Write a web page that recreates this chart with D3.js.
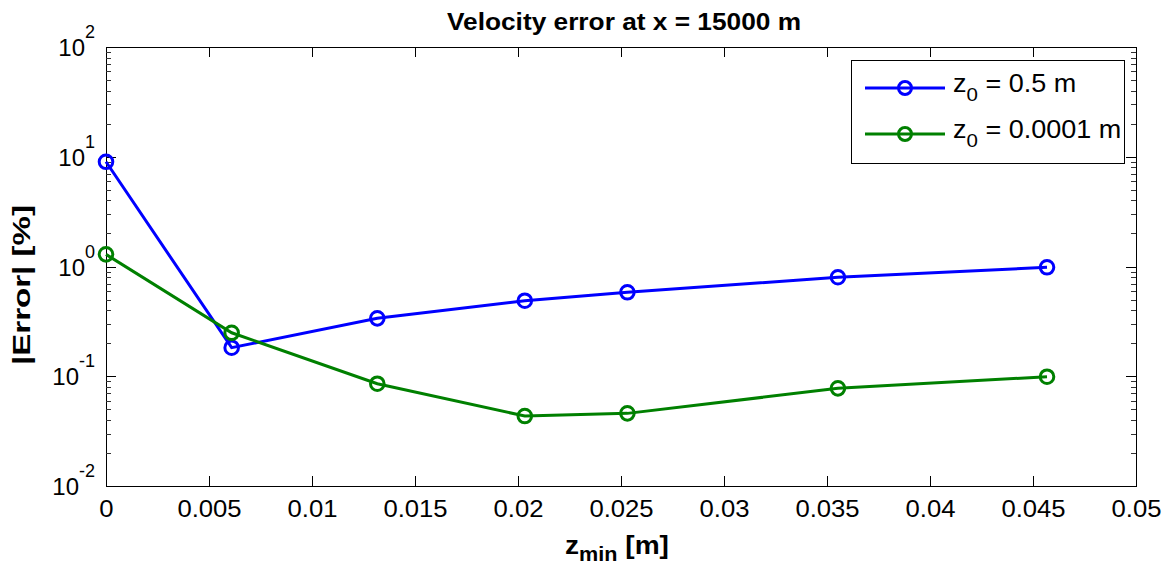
<!DOCTYPE html>
<html>
  <head>
    <title>Velocity error</title>
    <script src="https://cdn.jsdelivr.net/npm/d3@7"></script>
    <style>
      body { margin: 0; background: #fff; }
      svg text { font-family: "Liberation Sans", Arial, Helvetica, sans-serif; fill: #000; }
      .axis path, .axis line { stroke: #000; shape-rendering: crispEdges; }
      .minor line { stroke: #333; }
    </style>
  </head>
  <body>
    <script>
      // data
      var zMin = [0, 0.0061, 0.01317, 0.02033, 0.02531, 0.03553, 0.04568];
      var errZ05 = [9.0, 0.182, 0.337, 0.488, 0.582, 0.798, 0.984];
      var errZ00001 = [1.29, 0.249, 0.0855, 0.0434, 0.0459, 0.0776, 0.099];
      var xTicks = [0, 0.005, 0.01, 0.015, 0.02, 0.025, 0.03, 0.035, 0.04, 0.045, 0.05];
      var yDecades = [-2, -1, 0, 1, 2];
      var seriesNames = ["0.5 m", "0.0001 m"];
      var seriesColors = ["#0000ff", "#008000"];

      var margin = {top: 47, right: 36, bottom: 81, left: 106},
          width = 1172 - margin.left - margin.right,
          height = 567 - margin.top - margin.bottom;

      var svg = d3.select("body").append("svg")
          .attr("width", 1172)
          .attr("height", 567);
      var g = svg.append("g")
          .attr("transform", "translate(" + margin.left + "," + margin.top + ")");

      var x = d3.scaleLinear().domain([0, 0.05]).range([0, width]);
      var y = d3.scaleLog().domain([0.01, 100]).range([height, 0]);

      var majorY = yDecades.map(function(p) { return Math.pow(10, p); });
      var minorY = [];
      yDecades.slice(0, -1).forEach(function(p) {
        for (var k = 2; k <= 9; k++) minorY.push(k * Math.pow(10, p));
      });

      // bottom axis with labels (the figure is a bit stretched sideways)
      g.append("g")
          .attr("class", "axis")
          .attr("transform", "translate(0," + height + ")")
          .call(d3.axisBottom(x).tickValues(xTicks).tickSize(-10).tickSizeOuter(0).tickPadding(14)
            .tickFormat(function(d) { return String(+d.toFixed(3)); }))
        .selectAll("text")
          .style("font-size", "24px")
          .attr("transform", "scale(1.07,1)");

      // top axis
      g.append("g")
          .attr("class", "axis")
          .call(d3.axisTop(x).tickValues(xTicks).tickSize(-10).tickSizeOuter(0).tickFormat(""));

      // left axis: majors, minors
      g.append("g")
          .attr("class", "axis")
          .call(d3.axisLeft(y).tickValues(majorY).tickSize(-10).tickSizeOuter(0).tickFormat(""));
      g.append("g")
          .attr("class", "axis minor")
          .call(d3.axisLeft(y).tickValues(minorY).tickSize(-5).tickSizeOuter(0).tickFormat(""))
          .select(".domain").remove();

      // right axis
      g.append("g")
          .attr("class", "axis")
          .attr("transform", "translate(" + width + ",0)")
          .call(d3.axisRight(y).tickValues(majorY).tickSize(-10).tickSizeOuter(0).tickFormat(""));
      g.append("g")
          .attr("class", "axis minor")
          .attr("transform", "translate(" + width + ",0)")
          .call(d3.axisRight(y).tickValues(minorY).tickSize(-5).tickSizeOuter(0).tickFormat(""))
          .select(".domain").remove();

      // y tick labels as 10^n
      yDecades.forEach(function(p) {
        var t = g.append("text")
            .attr("x", -11)
            .attr("y", y(Math.pow(10, p)) + 9)
            .attr("text-anchor", "end")
            .style("font-size", "24px");
        t.append("tspan").text("10");
        t.append("tspan").attr("dy", -18).style("font-size", "18px").text(String(p));
      });

      // lines + markers
      var line = d3.line()
          .x(function(d) { return x(d[0]); })
          .y(function(d) { return y(d[1]); });

      [errZ05, errZ00001].forEach(function(vals, i) {
        var pts = zMin.map(function(z, j) { return [z, vals[j]]; });
        g.append("path")
            .datum(pts)
            .attr("fill", "none")
            .attr("stroke", seriesColors[i])
            .attr("stroke-width", 3)
            .attr("d", line);
        g.selectAll(".m" + i)
            .data(pts)
          .enter().append("circle")
            .attr("class", "m" + i)
            .attr("cx", function(d) { return x(d[0]); })
            .attr("cy", function(d) { return y(d[1]); })
            .attr("r", 6.8)
            .attr("fill", "none")
            .attr("stroke", seriesColors[i])
            .attr("stroke-width", 3);
      });

      // title
      svg.append("text")
          .attr("x", 624)
          .attr("y", 30)
          .attr("text-anchor", "middle")
          .attr("textLength", 354)
          .attr("lengthAdjust", "spacingAndGlyphs")
          .style("font-size", "23px")
          .style("font-weight", "bold")
          .text("Velocity error at x = 15000 m");

      // x label
      var xl = svg.append("text")
          .attr("transform", "translate(617,554) scale(1.08,1)")
          .attr("text-anchor", "middle")
          .style("font-size", "26px")
          .style("font-weight", "bold");
      xl.append("tspan").text("z");
      xl.append("tspan").attr("dy", 7).style("font-size", "20px").text("min");
      xl.append("tspan").attr("dy", -7).text(" [m]");

      // y label
      svg.append("text")
          .attr("transform", "translate(30,285) rotate(-90)")
          .attr("text-anchor", "middle")
          .attr("textLength", 160)
          .attr("lengthAdjust", "spacingAndGlyphs")
          .style("font-size", "23px")
          .style("font-weight", "bold")
          .text("|Error| [%]");

      // legend
      var leg = svg.append("g");
      leg.append("rect")
          .attr("x", 851).attr("y", 60)
          .attr("width", 273).attr("height", 103)
          .attr("fill", "#fff")
          .attr("stroke", "#000")
          .attr("stroke-width", 1)
          .style("shape-rendering", "crispEdges");
      seriesNames.forEach(function(name, i) {
        var ly = 88 + i * 46;
        leg.append("line")
            .attr("x1", 865).attr("x2", 945)
            .attr("y1", ly).attr("y2", ly)
            .attr("stroke", seriesColors[i])
            .attr("stroke-width", 3);
        leg.append("circle")
            .attr("cx", 905).attr("cy", ly).attr("r", 6.5)
            .attr("fill", "none")
            .attr("stroke", seriesColors[i])
            .attr("stroke-width", 3);
        var t = leg.append("text")
            .attr("transform", "translate(953," + (ly + 4) + ") scale(1.08,1)")
            .style("font-size", "25px");
        t.append("tspan").text("z");
        t.append("tspan").attr("dy", 9).style("font-size", "19px").text("0");
        t.append("tspan").attr("dy", -9).text(" = " + name);
      });
    </script>
  </body>
</html>
